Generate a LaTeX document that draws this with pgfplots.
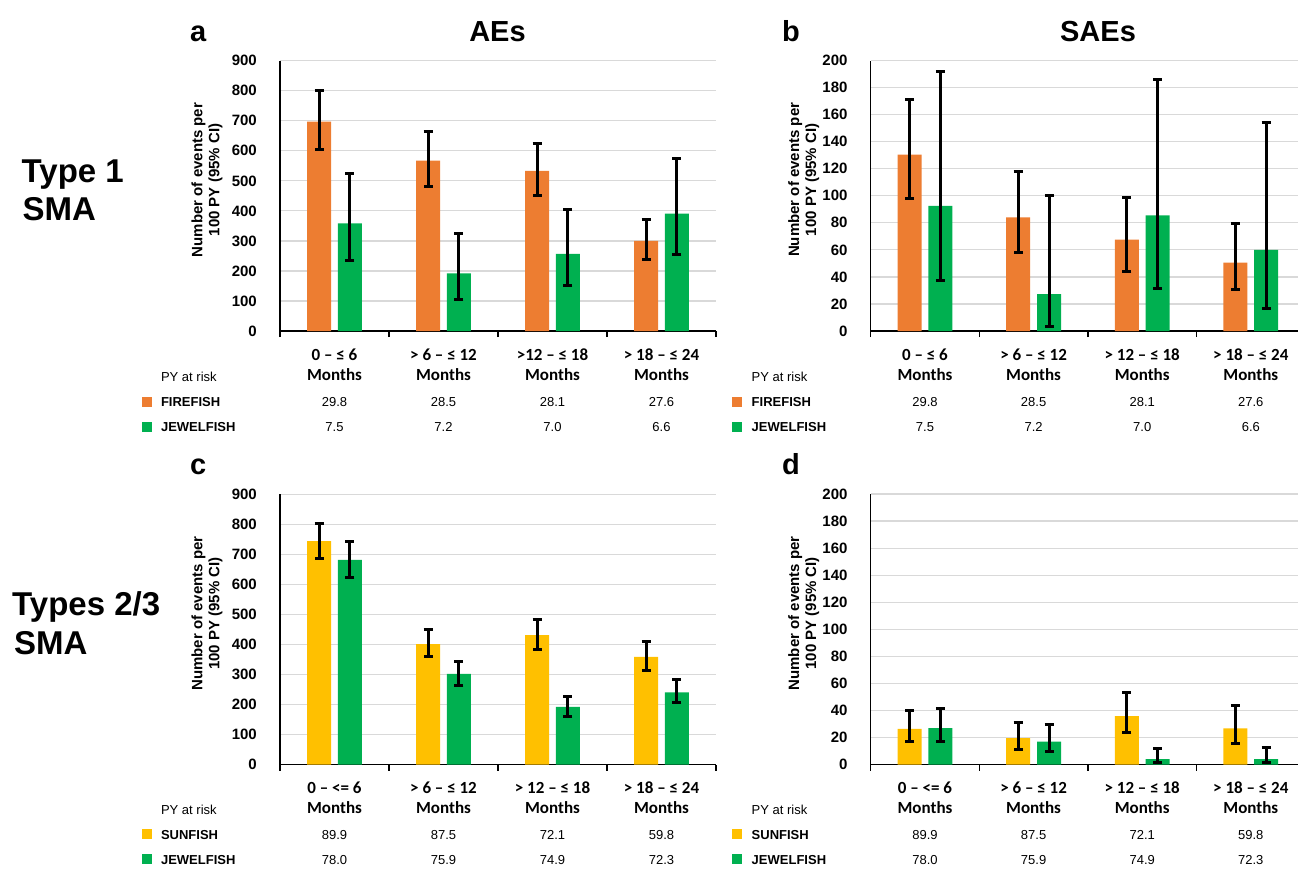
\documentclass[border=0pt]{standalone}
\usepackage{pgfplots}
\pgfplotsset{compat=1.18}
\usepackage{pgfplotstable}
\usepackage{fontspec}
\setmainfont{Liberation Sans}
\newfontfamily\carlito{Carlito}
\definecolor{cOrange}{HTML}{ED7D31}
\definecolor{cGreen}{HTML}{00B050}
\definecolor{cYellow}{HTML}{FFC000}
\definecolor{gridgray}{HTML}{D9D9D9}
\newcommand\ticfont{\fontsize{15}{17}\selectfont\bfseries}
\newcommand\catfont{\carlito\fontsize{17}{20}\selectfont\bfseries}
\newcommand\tabfont{\fontsize{13}{15}\selectfont}
\newcommand\tabbold{\fontsize{13}{15}\selectfont\bfseries}
\newcommand\titlefont{\fontsize{29}{32}\selectfont\bfseries}
\newcommand\typefont{\fontsize{33}{38}\selectfont\bfseries}

% panel a: AEs, Type 1 (FIREFISH / JEWELFISH)
\pgfplotstableread{
x y ep em
-0.142 697 103 92
0.858 567 96 85
1.858 533 93 83
2.858 300 72 62
}\Aone
\pgfplotstableread{
x y ep em
0.142 358 165 122
1.142 192 134 87
2.142 257 149 105
3.142 391 183 135
}\Atwo
% panel b: SAEs, Type 1
\pgfplotstableread{
x y ep em
-0.142 130.5 40.5 32.5
0.858 84 34 26
1.858 67.5 31.5 23.2
2.858 50.5 28.8 19.7
}\Bone
\pgfplotstableread{
x y ep em
0.142 92.6 99.4 55.2
1.142 27.3 72.7 24.1
2.142 85.5 100.5 54.2
3.142 60 94.4 43.7
}\Btwo
% panel c: AEs, Types 2/3 (SUNFISH / JEWELFISH)
\pgfplotstableread{
x y ep em
-0.142 743.7 59.9 56.7
0.858 401 47 41
1.858 431 52 46.4
2.858 358 52 46.5
}\Cone
\pgfplotstableread{
x y ep em
0.142 681.7 60.9 57.7
1.142 301.5 41 38.8
2.142 191.7 35.3 31
3.142 240.5 41 35.5
}\Ctwo
% panel d: SAEs, Types 2/3
\pgfplotstableread{
x y ep em
-0.142 26.4 13.6 9.4
0.858 19.5 11.9 8.1
1.858 35.8 17.2 12.1
2.858 26.7 16.8 11.4
}\Done
\pgfplotstableread{
x y ep em
0.142 26.9 14.6 10.1
1.142 17 12.4 7.6
2.142 4 7.9 2.8
3.142 4 8.3 2.8
}\Dtwo

\pgfplotsset{
  panel/.style={
    anchor=south west, x=109pt,
    xmin=-0.5, xmax=3.5, ymin=0,
    axis x line*=bottom, axis y line*=left,
    axis line style={line width=1.5pt, black},
    xtick={-0.5,0.5,1.5,2.5,3.5}, xticklabels={},
    tick align=outside, major tick length=6pt,
    xtick style={line width=1.5pt, black},
    ytick style={draw=none},
    ymajorgrids, major grid style={line width=1.2pt, gridgray},
    yticklabel style={font=\ticfont, inner sep=0pt, xshift=-17pt},
    /pgf/number format/assume math mode=true,
    clip=false,
    ylabel={Number of events per\\100 PY (95\% CI)},
    every axis y label/.style={at={([xshift=-73pt]rel axis cs:0,0.559)}, rotate=90, anchor=center, font=\ticfont, align=center},
  },
  aes/.style={panel, ymax=900, ytick={0,100,...,900}, y=0.30033pt},
  saes/.style={panel, ymax=200, ytick={0,20,...,200}, y=1.3525pt},
  bars/.style={ybar, bar width=24pt, bar shift=0pt, fill=#1, draw=none,
    error bars/.cd, y dir=both, y explicit, error mark=|,
    error bar style={line width=3pt, draw=black},
    error mark options={line width=3pt, draw=black, fill=black, mark size=4.5pt}},
}
\newcommand\hdr[4]{%
  \node[anchor=base, font=\catfont] at ([yshift=-29pt]axis cs:0,0) {#1};
  \node[anchor=base, font=\catfont] at ([yshift=-29pt]axis cs:1,0) {#2};
  \node[anchor=base, font=\catfont] at ([yshift=-29pt]axis cs:2,0) {#3};
  \node[anchor=base, font=\catfont] at ([yshift=-29pt]axis cs:3,0) {#4};
  \node[anchor=base, font=\catfont] at ([yshift=-49pt]axis cs:0,0) {Months};
  \node[anchor=base, font=\catfont] at ([yshift=-49pt]axis cs:1,0) {Months};
  \node[anchor=base, font=\catfont] at ([yshift=-49pt]axis cs:2,0) {Months};
  \node[anchor=base, font=\catfont] at ([yshift=-49pt]axis cs:3,0) {Months};
  \node[anchor=base west, font=\tabfont] at ([xshift=-122.5pt,yshift=-50pt]axis cs:-0.5,0) {PY at risk};
}
\newcommand\pyrow[7]{%
  \fill[#2] ([xshift=-138.5pt,yshift=#1]axis cs:-0.5,0) rectangle ++(10pt,10pt);
  \node[anchor=base west, font=\tabbold] at ([xshift=-122.5pt,yshift=#1]axis cs:-0.5,0) {#3};
  \node[anchor=base, font=\tabfont] at ([yshift=#1]axis cs:0,0) {#4};
  \node[anchor=base, font=\tabfont] at ([yshift=#1]axis cs:1,0) {#5};
  \node[anchor=base, font=\tabfont] at ([yshift=#1]axis cs:2,0) {#6};
  \node[anchor=base, font=\tabfont] at ([yshift=#1]axis cs:3,0) {#7};
}

\begin{document}
\begin{tikzpicture}
\useasboundingbox (0,0) rectangle (1298pt,-868pt);

% titles and row labels
\node[anchor=base west, font=\titlefont, inner sep=0pt] at (190pt,-41pt) {a};
\node[anchor=base, font=\titlefont, inner sep=0pt] at (497.5pt,-41pt) {AEs};
\node[anchor=base west, font=\titlefont, inner sep=0pt] at (782pt,-41pt) {b};
\node[anchor=base, font=\titlefont, inner sep=0pt] at (1098pt,-41pt) {SAEs};
\node[anchor=base west, font=\titlefont, inner sep=0pt] at (190pt,-474.5pt) {c};
\node[anchor=base west, font=\titlefont, inner sep=0pt] at (782pt,-474.5pt) {d};
\node[anchor=base west, font=\typefont, inner sep=0pt] at (21.5pt,-182.5pt) {Type 1};
\node[anchor=base west, font=\typefont, inner sep=0pt] at (22.5pt,-220.5pt) {SMA};
\node[anchor=base west, font=\typefont, inner sep=0pt] at (12pt,-615.5pt) {Types 2/3};
\node[anchor=base west, font=\typefont, inner sep=0pt] at (14pt,-654pt) {SMA};

% panel a
\begin{axis}[aes, at={(280pt,-331pt)}]
\addplot[bars=cOrange] table[x=x, y=y, y error plus=ep, y error minus=em] {\Aone};
\addplot[bars=cGreen] table[x=x, y=y, y error plus=ep, y error minus=em] {\Atwo};
\hdr{0 – ≤ 6}{> 6 – ≤ 12}{>12 – ≤ 18}{> 18 – ≤ 24}
\pyrow{-75.7pt}{cOrange}{FIREFISH}{29.8}{28.5}{28.1}{27.6}
\pyrow{-100.7pt}{cGreen}{JEWELFISH}{7.5}{7.2}{7.0}{6.6}
\end{axis}

% panel b
\begin{axis}[saes, x=108.6pt, xmax=3.435, at={(870.7pt,-331pt)},
  every axis y label/.style={at={([xshift=-67pt]rel axis cs:0,0.559)}, rotate=90, anchor=center, font=\ticfont, align=center}]
\addplot[bars=cOrange] table[x=x, y=y, y error plus=ep, y error minus=em] {\Bone};
\addplot[bars=cGreen] table[x=x, y=y, y error plus=ep, y error minus=em] {\Btwo};
\hdr{0 – ≤ 6}{> 6 – ≤ 12}{> 12 – ≤ 18}{> 18 – ≤ 24}
\pyrow{-75.7pt}{cOrange}{FIREFISH}{29.8}{28.5}{28.1}{27.6}
\pyrow{-100.7pt}{cGreen}{JEWELFISH}{7.5}{7.2}{7.0}{6.6}
\end{axis}

% panel c
\begin{axis}[aes, at={(280pt,-764.5pt)}]
\addplot[bars=cYellow] table[x=x, y=y, y error plus=ep, y error minus=em] {\Cone};
\addplot[bars=cGreen] table[x=x, y=y, y error plus=ep, y error minus=em] {\Ctwo};
\hdr{0 – <= 6}{> 6 – ≤ 12}{> 12 – ≤ 18}{> 18 – ≤ 24}
\pyrow{-74.5pt}{cYellow}{SUNFISH}{89.9}{87.5}{72.1}{59.8}
\pyrow{-99.5pt}{cGreen}{JEWELFISH}{78.0}{75.9}{74.9}{72.3}
\end{axis}

% panel d
\begin{axis}[saes, x=108.6pt, xmax=3.435, at={(870.7pt,-764.5pt)},
  every axis y label/.style={at={([xshift=-67pt]rel axis cs:0,0.559)}, rotate=90, anchor=center, font=\ticfont, align=center}]
\addplot[bars=cYellow] table[x=x, y=y, y error plus=ep, y error minus=em] {\Done};
\addplot[bars=cGreen] table[x=x, y=y, y error plus=ep, y error minus=em] {\Dtwo};
\hdr{0 – <= 6}{> 6 – ≤ 12}{> 12 – ≤ 18}{> 18 – ≤ 24}
\pyrow{-74.5pt}{cYellow}{SUNFISH}{89.9}{87.5}{72.1}{59.8}
\pyrow{-99.5pt}{cGreen}{JEWELFISH}{78.0}{75.9}{74.9}{72.3}
\end{axis}
\end{tikzpicture}
\end{document}
